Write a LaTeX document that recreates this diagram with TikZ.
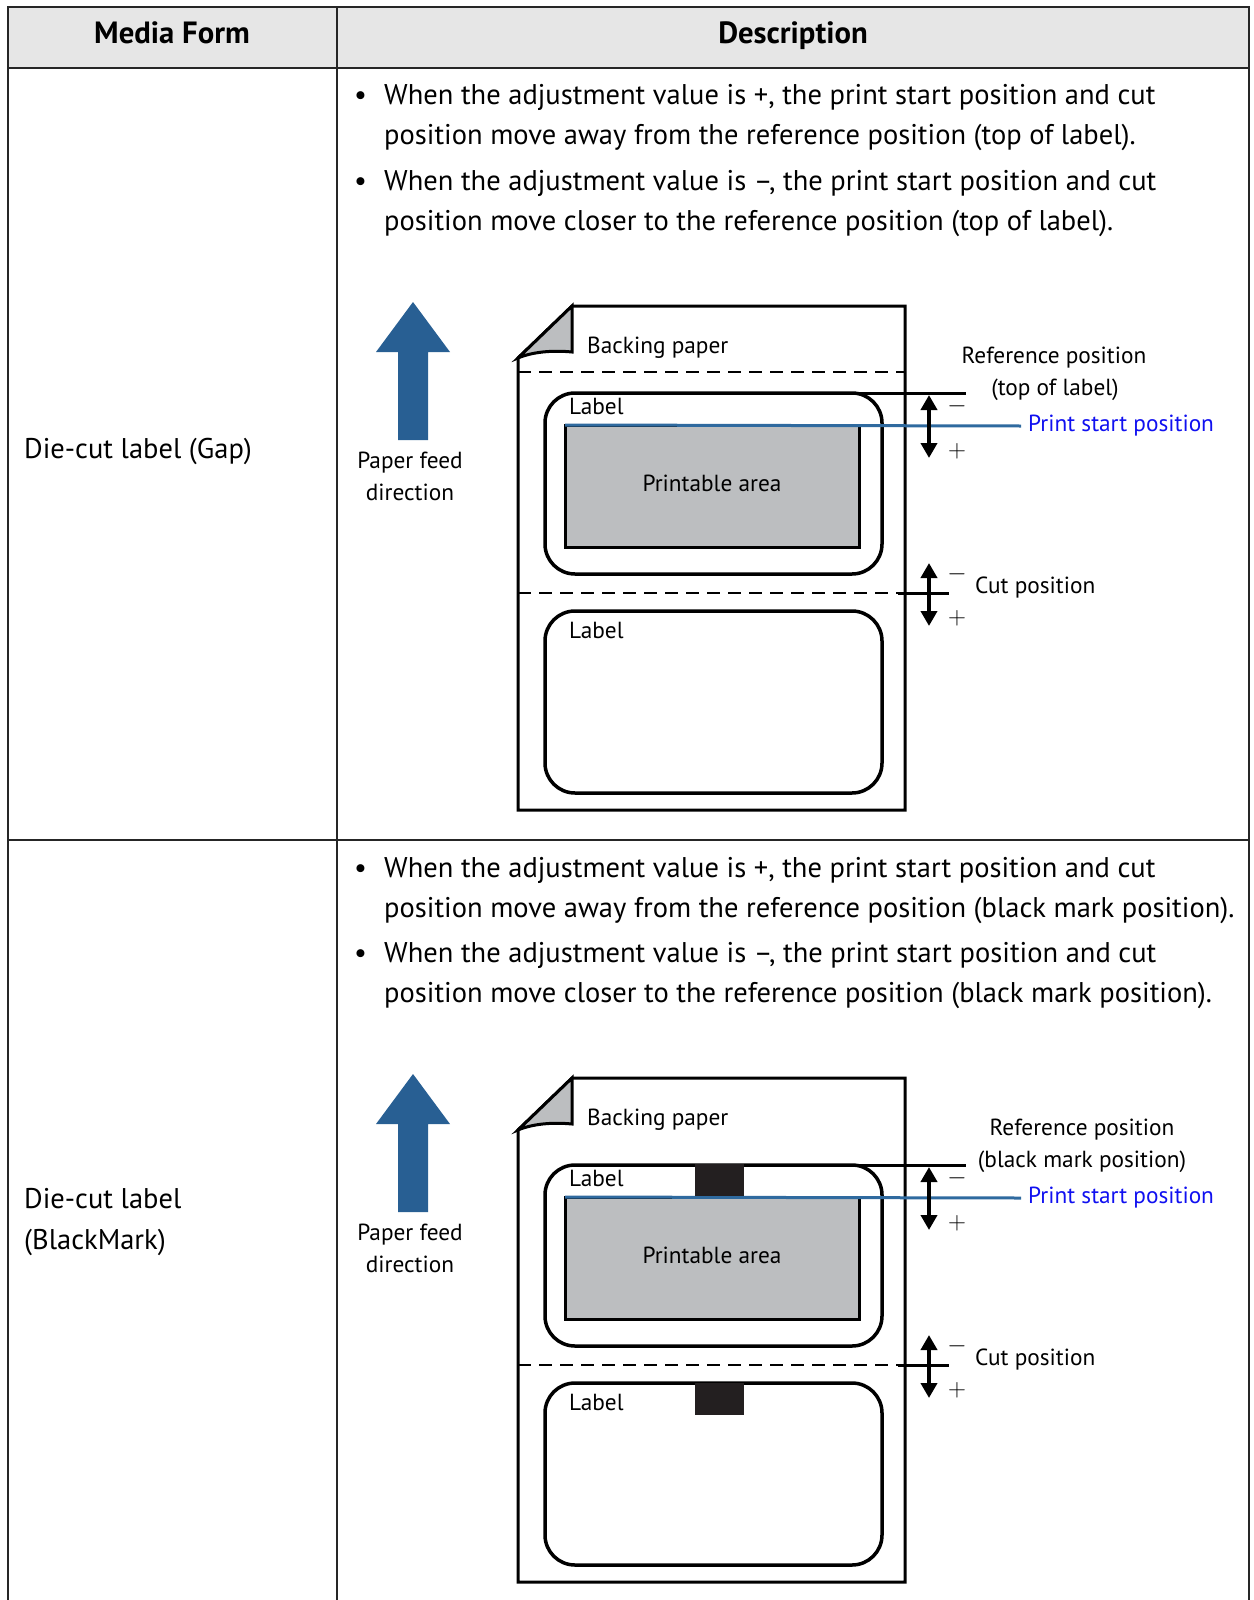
\documentclass[tikz,border=0pt]{standalone}
\usepackage{fontspec}
\setmainfont{PT Sans}
\usetikzlibrary{arrows.meta}
\definecolor{headgray}{HTML}{E6E6E6}
\definecolor{areagray}{HTML}{BCBEC0}
\definecolor{feedblue}{HTML}{285F93}
\definecolor{lineblue}{HTML}{2F6A9F}
\definecolor{textblue}{HTML}{1010F0}
\definecolor{markblack}{HTML}{231F20}
\begin{document}
\begin{tikzpicture}[x=1pt,y=-1pt,
  grid/.style={line width=1.5pt,draw=black!85},
  headtext/.style={inner sep=0pt,anchor=base,font=\bfseries\fontsize{30.7}{32}\selectfont},
  bodytext/.style={anchor=base west,inner sep=0pt,font=\fontsize{28.5}{34}\selectfont},
  smalltext/.style={inner sep=0pt,font=\fontsize{23.3}{28}\selectfont},
  pm/.style={inner sep=0pt,font=\fontsize{26}{28}\selectfont},
  sheet/.style={line width=3pt},
  labelbox/.style={line width=3.5pt,rounded corners=30pt},
  area/.style={fill=areagray,line width=3pt},
  gapline/.style={dash pattern=on 13pt off 8pt,line width=1.5pt},
  adjust/.style={line width=4pt,{Triangle[width=16pt,length=15pt]}-{Triangle[width=16pt,length=15pt]}}]
\useasboundingbox (0,0) rectangle (1253,1600);

% table
\fill[headgray] (8,7) rectangle (1249,68);
\draw[grid] (8,1600) -- (8,7) -- (1249,7) -- (1249,1600);
\draw[grid] (8,68) -- (1249,68);
\draw[grid] (8,840) -- (1249,840);
\draw[grid] (337,7) -- (337,1600);
\node[headtext] (mediahead) at (172,44) {Media Form};
\node[headtext] (deschead) at (793,44) {Description};

% media forms
\node[bodytext] (gapform) at (24,458) {Die-cut label (Gap)};
\node[bodytext] (bmform) at (24,1208) {Die-cut label};
\node[bodytext] (bmform2) at (24,1249) {(BlackMark)};

% descriptions
\node[bodytext] (dot1) at (354,105) {\textbullet};
\node[bodytext] (gapplus) at (384,105) {When the adjustment value is +, the print start position and cut};
\node[bodytext] (gapplus2) at (384,145) {position move away from the reference position (top of label).};
\node[bodytext] (dot2) at (354,190) {\textbullet};
\node[bodytext] (gapminus) at (384,190) {When the adjustment value is –, the print start position and cut};
\node[bodytext] (gapminus2) at (384,230) {position move closer to the reference position (top of label).};

\node[bodytext] (dot3) at (354,877) {\textbullet};
\node[bodytext] (bmplus) at (384,877) {When the adjustment value is +, the print start position and cut};
\node[bodytext] (bmplus2) at (384,917) {position move away from the reference position (black mark position).};
\node[bodytext] (dot4) at (354,962) {\textbullet};
\node[bodytext] (bmminus) at (384,962) {When the adjustment value is –, the print start position and cut};
\node[bodytext] (bmminus2) at (384,1002) {position move closer to the reference position (black mark position).};

% the two label sheets
\foreach \row/\dy in {1/0,2/772}{
\begin{scope}[shift={(0,\dy)}]
\fill[feedblue] (398,440) -- (398,352) -- (376,352) -- (413,302) -- (450,352) -- (428,352) -- (428,440) -- cycle;
\node[smalltext,anchor=base] (feed\row) at (410,468) {Paper feed};
\node[smalltext,anchor=base] (dir\row) at (410,500) {direction};

\draw[sheet] (518,358) -- (572,306) -- (905,306) -- (905,810) -- (518,810) -- cycle;
\draw[sheet,fill=areagray] (518,358) -- (572,306) -- (572,352) .. controls (552,350) and (532,352) .. (518,358) -- cycle;
\node[smalltext,anchor=base west] (back\row) at (587,353) {Backing paper};

\draw[labelbox] (545,393) rectangle (882,574);
\draw[labelbox] (545,611) rectangle (882,793);
\draw[area] (565,425) rectangle (859,547);
\node[smalltext,anchor=base west] (top\row) at (569,414) {Label};
\node[smalltext,anchor=base west] (next\row) at (569,638) {Label};
\node[smalltext,anchor=base] (area\row) at (712,491) {Printable area};

\coordinate (ref\row) at (850,393);
\coordinate (refend\row) at (966,393);
\draw[line width=3pt] (ref\row) -- (refend\row);

\coordinate (ps\row) at (565,425);
\node[smalltext,anchor=west,inner xsep=7pt,text=textblue] (pstext\row) at (1021,426) {Print start position};
\draw[lineblue,line width=3pt] (ps\row) -- (pstext\row.west);
\draw[adjust] (929,395) -- (929,458);
\node[pm] (minus\row) at (957,406) {$-$};
\node[pm] (plus\row) at (957,451) {$+$};

\draw[gapline] (518,593) -- (905,593);
\coordinate (cut\row) at (898,593);
\node[smalltext,anchor=west] (cuttext\row) at (975,588) {Cut position};
\draw[line width=3pt] (cut\row) -- (949,593);
\draw[adjust] (929,563) -- (929,626);
\node[pm] (cminus\row) at (957,574) {$-$};
\node[pm] (cplus\row) at (957,618) {$+$};
\end{scope}
}

\draw[gapline] (518,372) -- (905,372);
\node[smalltext,anchor=base] (refname1) at (1054,363) {Reference position};
\node[smalltext,anchor=base] (refwhere1) at (1055,395) {(top of label)};

\fill[markblack] (695,1164) rectangle (744,1196);
\fill[markblack] (695,1383) rectangle (744,1415);
\node[smalltext,anchor=base] (refname2) at (1082,1135) {Reference position};
\node[smalltext,anchor=base] (refwhere2) at (1082,1167) {(black mark position)};
\end{tikzpicture}
\end{document}
